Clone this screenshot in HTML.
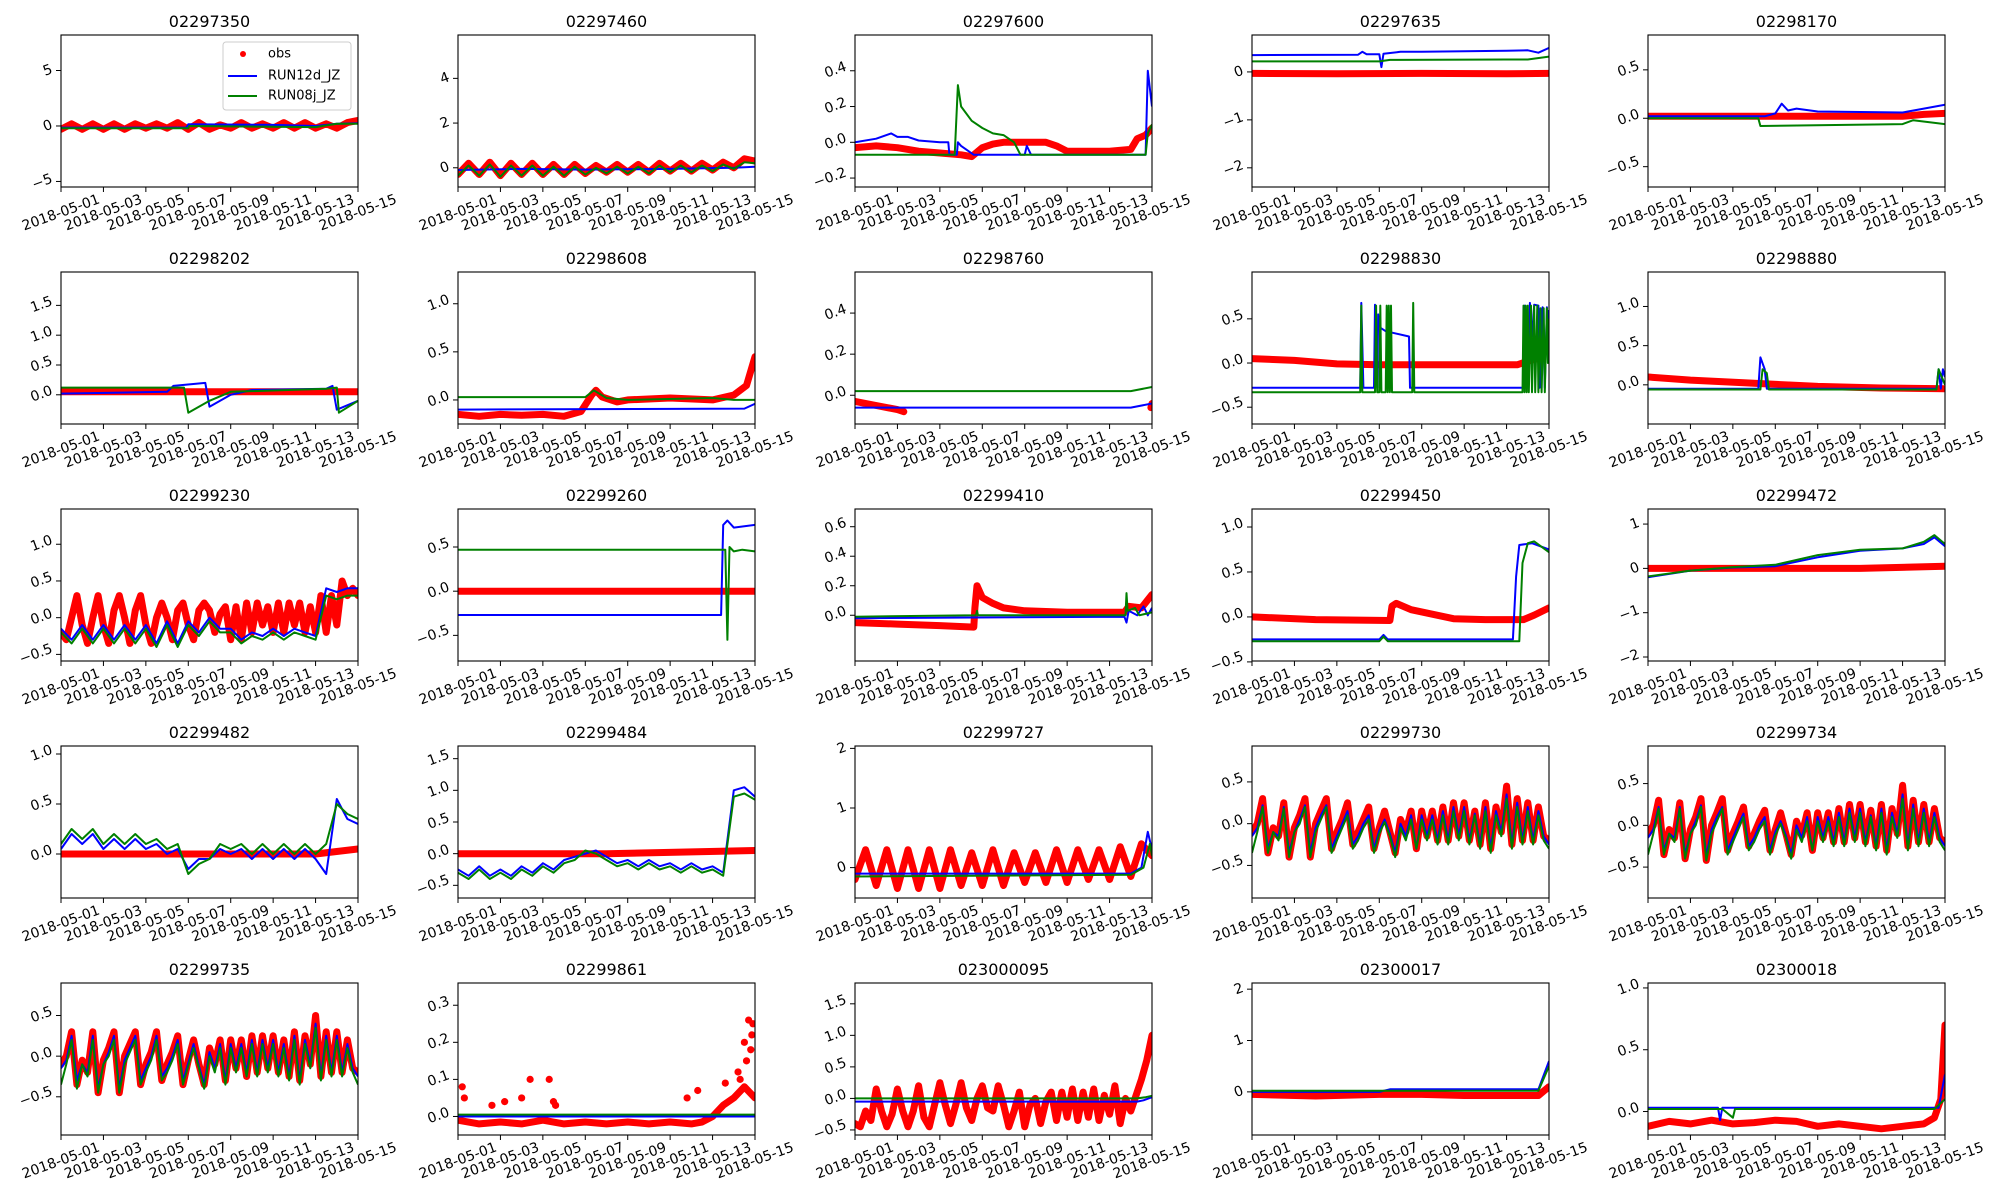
<!DOCTYPE html>
<html><head><meta charset="utf-8">
<style>
html,body{margin:0;padding:0;background:#fff;}
svg{display:block;font-family:"DejaVu Sans","Liberation Sans",sans-serif;}
</style></head>
<body>
<svg id="fig" width="2000" height="1200" viewBox="0 0 2000 1200" xmlns="http://www.w3.org/2000/svg"></svg>
<script>
const stations=["02297350","02297460","02297600","02297635","02298170","02298202","02298608","02298760","02298830","02298880","02299230","02299260","02299410","02299450","02299472","02299482","02299484","02299727","02299730","02299734","02299735","02299861","023000095","02300017","02300018"];
const yMin=[-5.5,-0.86,-0.25,-2.4,-0.71,-0.49,-0.25,-0.14,-0.69,-0.5,-0.59,-0.79,-0.31,-0.49,-2.09,-0.44,-0.7,-0.51,-0.89,-0.87,-0.97,-0.05,-0.58,-0.84,-0.19];
const yMax=[8.2,5.94,0.6,0.77,0.86,2.06,1.33,0.6,1.03,1.44,1.48,0.93,0.72,1.2,1.34,1.08,1.7,2.04,0.93,0.95,0.9,0.36,1.83,2.12,1.04];
const yTicks=[[-5,0,5],[0,2,4],[-0.2,0,0.2,0.4],[-2,-1,0],[-0.5,0,0.5],[0,0.5,1,1.5],[0,0.5,1],[0,0.2,0.4],[-0.5,0,0.5],[0,0.5,1],[-0.5,0,0.5,1],[-0.5,0,0.5],[0,0.2,0.4,0.6],[-0.5,0,0.5,1],[-2,-1,0,1],[0,0.5,1],[-0.5,0,0.5,1,1.5],[0,1,2],[-0.5,0,0.5],[-0.5,0,0.5],[-0.5,0,0.5],[0,0.1,0.2,0.3],[-0.5,0,0.5,1,1.5],[0,1,2],[0,0.5,1]];
const xTickDays=[0,2,4,6,8,10,12,14];
const xTickLabels=["2018-05-01","2018-05-03","2018-05-05","2018-05-07","2018-05-09","2018-05-11","2018-05-13","2018-05-15"];

const obsData=[
[-0.3,0.2,-0.3,0.2,-0.3,0.2,-0.3,0.2,-0.2,0.2,-0.2,0.3,-0.3,0.3,-0.3,0.1,-0.2,0.3,-0.2,0.2,-0.2,0.3,-0.2,0.3,-0.2,0.2,-0.2,0.3,0.5],
[-0.3,0.2,-0.3,0.25,-0.35,0.2,-0.3,0.2,-0.3,0.15,-0.3,0.15,-0.25,0.1,-0.2,0.15,-0.2,0.15,-0.2,0.2,-0.15,0.2,-0.15,0.2,-0.1,0.25,0.0,0.4,0.3],
[[0,-0.03],[1,-0.02],[2,-0.03],[3,-0.05],[4,-0.06],[5,-0.07],[5.5,-0.08],[6,-0.03],[6.5,-0.01],[7,0.0],[8,0.0],[9,0.0],[9.5,-0.02],[10,-0.05],[11,-0.05],[12,-0.05],[13,-0.04],[13.3,0.02],[13.7,0.04],[14,0.08]],
[[0,-0.03],[4,-0.04],[8,-0.03],[12,-0.04],[14,-0.03]],
[[0,0.02],[6,0.02],[12,0.02],[13,0.04],[14,0.05]],
[[0,0.05],[7,0.05],[14,0.05]],
[[0,-0.15],[1,-0.17],[2,-0.15],[3,-0.16],[4,-0.15],[5,-0.17],[5.8,-0.12],[6.3,0.05],[6.5,0.1],[6.8,0.03],[7.5,-0.02],[8,0.0],[10,0.02],[12,0.0],[13,0.05],[13.6,0.15],[14,0.45]],
[[0,-0.03],[1,-0.05],[2,-0.07],[2.3,-0.08],null,[13.95,-0.06],[14,-0.04]],
[[0,0.05],[2,0.03],[4,-0.01],[6,-0.02],[9,-0.02],[12.5,-0.02],[13,0.02],[13.6,0.06]],
[[0,0.1],[2,0.06],[5,0.02],[8,-0.02],[11,-0.04],[14,-0.05]],
[-0.2,-0.3,0.0,0.3,-0.1,-0.35,0.0,0.3,-0.1,-0.35,0.1,0.3,0.0,-0.35,0.1,0.3,-0.1,-0.35,0.0,0.2,0.0,-0.3,0.1,0.2,-0.1,-0.3,0.1,0.2,0.1,-0.2,0.05,0.15,-0.3,0.15,-0.3,0.2,-0.2,0.2,-0.1,0.15,-0.2,0.2,-0.2,0.2,-0.1,0.2,-0.2,0.15,-0.2,0.3,-0.2,0.3,-0.1,0.5,0.3,0.4,0.3],
[[0,0.0],[14,0.0]],
[[0,-0.05],[2,-0.06],[4,-0.07],[5.6,-0.08],[5.65,0.05],[5.75,0.2],[6,0.12],[6.5,0.08],[7,0.05],[8,0.03],[10,0.02],[12.7,0.02],[12.9,0.06],[13.5,0.05],[14,0.14]],
[[0,0.0],[3,-0.03],[6.5,-0.04],[6.6,0.12],[6.8,0.15],[7.5,0.08],[8.5,0.03],[9.5,-0.02],[11,-0.03],[12.8,-0.03],[13.3,0.02],[14,0.1]],
[[0,0.0],[10,0.0],[14,0.05]],
[[0,0.0],[12,0.0],[14,0.05]],
[[0,0.0],[7,0.0],[14,0.05]],
[-0.2,0.3,-0.3,0.3,-0.35,0.3,-0.35,0.3,-0.35,0.3,-0.3,0.25,-0.3,0.3,-0.3,0.25,-0.25,0.25,-0.25,0.3,-0.25,0.3,-0.2,0.3,-0.2,0.35,-0.15,0.4,0.2],
[-0.1,0.0,0.3,-0.35,-0.05,-0.15,0.25,-0.4,-0.05,0.1,0.3,-0.4,0.0,0.15,0.3,-0.3,-0.1,0.05,0.25,-0.25,-0.1,0.05,0.2,-0.3,-0.05,0.15,-0.1,-0.35,0.05,-0.1,0.15,-0.3,0.15,-0.15,0.15,-0.2,0.2,-0.2,0.25,-0.15,0.25,-0.2,0.15,-0.25,0.25,-0.3,0.2,-0.1,0.45,-0.25,0.3,-0.2,0.25,-0.2,0.2,-0.15,-0.2],
[-0.1,0.0,0.3,-0.35,-0.05,-0.15,0.27,-0.4,-0.05,0.1,0.32,-0.42,0.0,0.15,0.32,-0.3,-0.1,0.05,0.22,-0.25,-0.1,0.05,0.18,-0.3,-0.05,0.15,-0.1,-0.35,0.05,-0.12,0.15,-0.3,0.15,-0.15,0.15,-0.2,0.2,-0.2,0.25,-0.15,0.25,-0.2,0.18,-0.25,0.25,-0.3,0.2,-0.1,0.48,-0.25,0.3,-0.2,0.25,-0.2,0.2,-0.15,-0.2],
[-0.1,0.0,0.3,-0.35,-0.05,-0.2,0.3,-0.45,-0.05,0.1,0.3,-0.45,0.0,0.15,0.3,-0.35,-0.1,0.05,0.3,-0.3,-0.1,0.05,0.25,-0.35,-0.05,0.2,-0.1,-0.35,0.1,-0.1,0.2,-0.3,0.2,-0.15,0.2,-0.25,0.25,-0.2,0.25,-0.15,0.25,-0.2,0.2,-0.25,0.3,-0.3,0.25,-0.1,0.5,-0.25,0.3,-0.2,0.3,-0.2,0.2,-0.15,-0.2],
[[0,-0.01],[1,-0.02],[2,-0.015],[3,-0.02],[4,-0.01],[5,-0.02],[6,-0.015],[7,-0.02],[8,-0.015],[9,-0.02],[10,-0.015],[11,-0.02],[11.5,-0.015],[12,0.0],[12.5,0.03],[13,0.05],[13.5,0.08],[14,0.05],null,[0.2,0.08],null,[0.3,0.05],null,[1.6,0.03],null,[2.2,0.04],null,[3.0,0.05],null,[3.4,0.1],null,[4.3,0.1],null,[4.5,0.04],null,[4.6,0.03],null,[10.8,0.05],null,[11.3,0.07],null,[12.6,0.09],null,[13.2,0.12],null,[13.5,0.2],null,[13.7,0.26],null,[13.8,0.18],null,[13.9,0.25],null,[13.6,0.15],null,[13.3,0.1],null,[13.85,0.22]],
[-0.4,-0.45,-0.2,-0.35,0.15,-0.2,-0.45,-0.25,0.15,-0.2,-0.45,-0.2,0.2,-0.3,-0.45,-0.1,0.25,-0.1,-0.4,-0.1,0.25,-0.15,-0.35,0.0,0.2,-0.15,-0.2,0.2,-0.1,-0.45,-0.2,0.1,-0.45,-0.1,0.0,-0.4,-0.05,0.1,-0.35,0.1,-0.3,0.15,-0.35,0.1,-0.3,0.15,-0.35,0.05,-0.25,0.2,-0.4,0.0,-0.2,0.05,0.3,0.6,1.0],
[[0,-0.05],[3,-0.08],[6,-0.05],[8,-0.05],[10,-0.07],[13.5,-0.07],[14,0.1]],
[[0,-0.12],[1,-0.08],[2,-0.1],[3,-0.07],[4,-0.1],[5,-0.09],[6,-0.07],[7,-0.08],[8,-0.12],[9,-0.1],[10,-0.12],[11,-0.14],[12,-0.12],[13,-0.1],[13.5,-0.05],[13.8,0.1],[14,0.7]]
];

const run12Data=[
[[0,-0.15],[5.9,-0.15],[6,0.15],[10,0.1],[12,0.0],[13,0.2],[14,0.25]],
[[0,-0.1],[3,-0.05],[6,-0.08],[10,-0.05],[13,0.0],[14,0.05]],
[[0,0.0],[1,0.02],[1.7,0.05],[2,0.03],[2.5,0.03],[3,0.01],[4,0.0],[4.4,0.0],[4.45,-0.07],[4.8,-0.07],[4.85,0.0],[5,-0.02],[5.6,-0.07],[8,-0.07],[8.1,-0.02],[8.3,-0.07],[13.7,-0.07],[13.8,0.4],[14,0.2]],
[[0,0.35],[5,0.36],[5.2,0.42],[5.4,0.37],[6,0.37],[6.1,0.1],[6.2,0.38],[7,0.42],[8,0.42],[12,0.44],[13,0.45],[13.5,0.4],[14,0.5]],
[[0,0.02],[5.5,0.02],[6,0.05],[6.3,0.15],[6.6,0.08],[7,0.1],[8,0.07],[12,0.06],[13,0.1],[14,0.14]],
[[0,0.02],[5,0.05],[5.3,0.15],[6.8,0.2],[7,-0.2],[7.5,-0.1],[8,0.0],[9,0.08],[12.5,0.1],[12.8,0.15],[13,-0.25],[14,-0.1]],
[[0,-0.1],[13.5,-0.09],[14,-0.04]],
[[0,-0.06],[13,-0.06],[14,-0.04]],
[[0,-0.28],[5.1,-0.28],[5.15,0.68],[5.25,-0.28],[5.75,-0.28],[5.8,0.66],[5.9,-0.28],[5.95,0.55],[6.05,0.4],[6.3,0.36],[7.4,0.3],[7.45,-0.28],[12.8,-0.28],[12.85,0.65],[13.0,-0.28],[13.1,0.68],[13.2,0.3],[13.3,0.66],[13.5,0.65],[13.55,-0.28],[13.7,0.63],[13.8,-0.28],[13.9,0.63],[13.95,0.4],[14,0.6]],
[[0,-0.05],[5.2,-0.05],[5.3,0.35],[5.5,0.2],[5.6,-0.05],[13.6,-0.05],[13.7,0.2],[13.8,-0.05],[13.9,0.2],[14,0.1]],
[-0.15,-0.3,-0.1,-0.3,-0.1,-0.3,-0.1,-0.3,-0.1,-0.35,-0.05,-0.35,-0.05,-0.2,0.0,-0.15,-0.15,-0.3,-0.2,-0.25,-0.15,-0.25,-0.15,-0.2,-0.25,0.4,0.35,0.4,0.4],
[[0,-0.27],[12.4,-0.27],[12.5,0.75],[12.7,0.8],[13,0.72],[14,0.75]],
[[0,-0.02],[12.7,-0.01],[12.8,-0.05],[12.9,0.03],[13.3,0.0],[13.6,0.06],[13.8,0.0],[14,0.05]],
[[0,-0.25],[6.0,-0.25],[6.2,-0.2],[6.4,-0.25],[12.3,-0.25],[12.45,0.45],[12.6,0.8],[13.2,0.82],[14,0.75]],
[[0,-0.2],[2,-0.05],[4,0.02],[6,0.05],[8,0.25],[10,0.4],[12,0.45],[13,0.55],[13.5,0.7],[14,0.5]],
[0.05,0.2,0.1,0.2,0.05,0.15,0.05,0.15,0.05,0.1,0.0,0.05,-0.15,-0.05,-0.05,0.05,0.0,0.05,-0.05,0.05,-0.05,0.05,-0.05,0.05,-0.05,-0.2,0.55,0.35,0.3],
[-0.25,-0.35,-0.2,-0.35,-0.25,-0.35,-0.2,-0.3,-0.15,-0.25,-0.1,-0.05,0.0,0.05,-0.05,-0.15,-0.1,-0.2,-0.1,-0.2,-0.15,-0.25,-0.15,-0.25,-0.2,-0.3,1.0,1.05,0.9],
[[0,-0.1],[13,-0.1],[13.5,0.0],[13.8,0.6],[14,0.3]],
[-0.15,-0.05,0.22,-0.3,-0.1,-0.15,0.2,-0.35,-0.1,0.05,0.22,-0.35,-0.05,0.1,0.22,-0.3,-0.15,0.0,0.15,-0.25,-0.15,0.0,0.1,-0.3,-0.08,0.05,-0.12,-0.35,0.0,-0.15,0.1,-0.3,0.1,-0.15,0.1,-0.2,0.15,-0.2,0.2,-0.15,0.2,-0.2,0.12,-0.25,0.2,-0.3,0.15,-0.1,0.35,-0.25,0.25,-0.2,0.2,-0.2,0.15,-0.15,-0.25],
[-0.15,-0.05,0.22,-0.3,-0.1,-0.15,0.22,-0.35,-0.1,0.05,0.24,-0.37,-0.05,0.1,0.22,-0.3,-0.15,0.0,0.14,-0.25,-0.15,0.0,0.1,-0.3,-0.08,0.05,-0.12,-0.35,0.0,-0.15,0.1,-0.3,0.1,-0.15,0.1,-0.2,0.15,-0.2,0.2,-0.15,0.2,-0.2,0.12,-0.25,0.2,-0.3,0.15,-0.1,0.37,-0.25,0.25,-0.2,0.2,-0.2,0.15,-0.15,-0.25],
[-0.15,-0.05,0.25,-0.3,-0.1,-0.2,0.25,-0.4,-0.1,0.05,0.25,-0.4,-0.05,0.1,0.25,-0.3,-0.15,0.0,0.25,-0.25,-0.15,0.0,0.2,-0.3,-0.08,0.15,-0.12,-0.35,0.05,-0.15,0.15,-0.3,0.15,-0.15,0.15,-0.2,0.2,-0.2,0.2,-0.15,0.2,-0.2,0.15,-0.25,0.25,-0.3,0.2,-0.1,0.4,-0.25,0.25,-0.2,0.25,-0.2,0.15,-0.15,-0.25],
[[0,0.0],[14,0.0]],
[[0,-0.05],[13.3,-0.05],[13.6,-0.03],[14,0.02]],
[[0,0.0],[6,0.0],[6.5,0.05],[13.5,0.05],[14,0.6]],
[[0,0.03],[3.3,0.03],[3.4,-0.07],[3.5,0.03],[13.7,0.03],[14,0.3]]
];

const run08Data=[
[[0,-0.2],[6,-0.2],[6.05,0.0],[12,-0.1],[13,0.2],[14,0.2]],
[-0.35,0.1,-0.35,0.15,-0.4,0.1,-0.35,0.1,-0.35,0.05,-0.35,0.05,-0.3,0.0,-0.25,0.05,-0.25,0.05,-0.25,0.1,-0.2,0.1,-0.2,0.1,-0.15,0.15,-0.05,0.25,0.2],
[[0,-0.07],[4.7,-0.07],[4.85,0.32],[5,0.2],[5.5,0.12],[6,0.08],[6.5,0.05],[7,0.04],[7.5,0.0],[7.8,-0.07],[13.7,-0.07],[13.8,0.05],[14,0.1]],
[[0,0.22],[6,0.22],[6.5,0.25],[12,0.26],[13,0.26],[14,0.32]],
[[0,0.0],[5.2,0.0],[5.3,-0.08],[12,-0.06],[12.5,-0.02],[14,-0.06]],
[[0,0.12],[5.8,0.12],[6,-0.3],[7,-0.1],[8,0.05],[12.5,0.1],[13,0.12],[13.1,-0.3],[14,-0.1]],
[[0,0.03],[6,0.03],[6.4,0.1],[7,0.02],[8,0.0],[12,0.02],[13,0.0],[14,0.0]],
[[0,0.02],[13,0.02],[14,0.04]],
[[0,-0.33],[5.1,-0.33],[5.15,0.65],[5.2,-0.33],[5.8,-0.33],[5.85,0.65],[5.9,-0.33],[6.0,-0.33],[6.05,0.65],[6.1,-0.33],[6.3,-0.33],[6.35,0.65],[6.4,-0.33],[6.45,0.65],[6.5,-0.33],[6.55,0.65],[6.6,-0.33],[7.55,-0.33],[7.6,0.68],[7.65,-0.33],[12.75,-0.33],[12.8,0.65],[12.85,-0.33],[12.9,0.65],[12.95,-0.33],[13.0,0.65],[13.05,-0.33],[13.15,0.65],[13.2,-0.33],[13.3,0.65],[13.35,-0.33],[13.45,0.65],[13.5,-0.33],[13.6,0.62],[13.65,-0.33],[13.75,0.62],[13.8,-0.33],[13.9,0.62],[13.95,0.0],[14,0.5]],
[[0,-0.06],[5.3,-0.06],[5.4,0.2],[5.6,0.15],[5.7,-0.06],[13.6,-0.06],[13.7,0.2],[14,0.0]],
[-0.2,-0.35,-0.15,-0.35,-0.15,-0.35,-0.15,-0.35,-0.15,-0.4,-0.1,-0.4,-0.1,-0.25,-0.05,-0.2,-0.2,-0.35,-0.25,-0.3,-0.2,-0.3,-0.2,-0.25,-0.3,0.3,0.25,0.3,0.3],
[[0,0.47],[12.6,0.47],[12.7,-0.55],[12.8,0.5],[13,0.45],[13.4,0.47],[14,0.45]],
[[0,-0.01],[5.7,0.0],[5.75,0.03],[5.8,0.0],[12.75,0.0],[12.8,0.15],[12.85,0.03],[13.2,0.05],[13.4,0.0],[14,0.02]],
[[0,-0.27],[6.0,-0.27],[6.2,-0.22],[6.4,-0.27],[12.6,-0.27],[12.75,0.6],[13.0,0.82],[13.3,0.84],[14,0.72]],
[[0,-0.18],[2,-0.05],[4,0.03],[6,0.08],[8,0.3],[10,0.42],[12,0.45],[13,0.6],[13.5,0.75],[14,0.55]],
[0.1,0.25,0.15,0.25,0.1,0.2,0.1,0.2,0.1,0.15,0.05,0.1,-0.2,-0.1,-0.05,0.1,0.05,0.1,0.0,0.1,0.0,0.1,0.0,0.1,0.0,0.1,0.5,0.4,0.35],
[-0.3,-0.4,-0.25,-0.4,-0.3,-0.4,-0.25,-0.35,-0.2,-0.3,-0.15,-0.1,0.05,0.0,-0.1,-0.2,-0.15,-0.25,-0.15,-0.25,-0.2,-0.3,-0.2,-0.3,-0.25,-0.35,0.9,0.95,0.85],
[[0,-0.15],[13,-0.12],[13.6,0.0],[13.9,0.4],[14,0.2]],
[-0.35,-0.1,0.2,-0.35,-0.1,-0.2,0.18,-0.4,-0.1,0.0,0.2,-0.4,-0.1,0.05,0.2,-0.35,-0.2,-0.05,0.1,-0.3,-0.2,-0.05,0.05,-0.35,-0.12,0.02,-0.15,-0.4,-0.05,-0.2,0.05,-0.3,0.05,-0.2,0.05,-0.25,0.1,-0.25,0.15,-0.2,0.15,-0.25,0.1,-0.3,0.15,-0.35,0.1,-0.15,0.3,-0.3,0.2,-0.25,0.15,-0.25,0.1,-0.2,-0.3],
[-0.35,-0.1,0.2,-0.35,-0.1,-0.2,0.2,-0.4,-0.1,0.0,0.22,-0.42,-0.1,0.05,0.2,-0.35,-0.2,-0.05,0.1,-0.3,-0.2,-0.05,0.05,-0.35,-0.12,0.02,-0.15,-0.4,-0.05,-0.2,0.05,-0.3,0.05,-0.2,0.05,-0.25,0.1,-0.25,0.15,-0.2,0.15,-0.25,0.1,-0.3,0.15,-0.35,0.1,-0.15,0.32,-0.3,0.2,-0.25,0.15,-0.25,0.1,-0.2,-0.3],
[-0.35,-0.1,0.2,-0.4,-0.1,-0.25,0.2,-0.45,-0.1,0.0,0.2,-0.45,-0.1,0.05,0.2,-0.35,-0.2,-0.05,0.2,-0.3,-0.2,-0.05,0.15,-0.35,-0.12,0.1,-0.15,-0.4,0.0,-0.2,0.1,-0.35,0.1,-0.2,0.1,-0.25,0.15,-0.25,0.15,-0.2,0.15,-0.25,0.1,-0.3,0.2,-0.35,0.15,-0.15,0.35,-0.3,0.2,-0.25,0.2,-0.25,0.1,-0.2,-0.35],
[[0,0.005],[14,0.005]],
[[0,0.0],[13.3,0.0],[13.7,0.02],[14,0.04]],
[[0,0.02],[13.5,0.02],[14,0.5]],
[[0,0.02],[3.5,0.02],[4,-0.05],[4.1,0.02],[13.5,0.02],[14,0.1]]
];

const NS="http://www.w3.org/2000/svg";
const svg=document.getElementById("fig");
const colLeft=[61,458,855,1252,1648];
const rowTop=[35,272,509,746,983];
const W=297,H=152;
function mk(tag,attrs,parent){const e=document.createElementNS(NS,tag);for(const k in attrs)e.setAttribute(k,attrs[k]);(parent||svg).appendChild(e);return e;}
function fmt(v,ticks){const allInt=ticks.every(t=>Math.abs(t-Math.round(t))<1e-9);let s=allInt?String(Math.round(v)):v.toFixed(1);if(v<0)s="\u2212"+s.replace("-","");return s;}
function toPts(series){const out=[];const n=series.length;let numeric=typeof series[0]==="number";series.forEach((p,i)=>{if(p===null)out.push(null);else if(numeric)out.push([i*14/(n-1),p]);else out.push(p);});return out;}

stations.forEach((name,i)=>{
  const L=colLeft[i%5],T=rowTop[Math.floor(i/5)];
  const g=mk("g",{});
  
  
  const xs=d=>L+d/14*W;
  const ys=v=>T+H-(v-yMin[i])/(yMax[i]-yMin[i])*H;
  const cp=mk("clipPath",{id:"c"+i},g);mk("rect",{x:L,y:T,width:W,height:H},cp);
  const plot=mk("g",{"clip-path":"url(#c"+i+")"},g);
  // obs
  const obs=toPts(obsData[i]);
  const og=mk("g",{},plot);
  
  
  let seg=[];
  const flush=()=>{if(seg.length>1){mk("polyline",{points:seg.map(p=>xs(p[0]).toFixed(1)+","+ys(p[1]).toFixed(1)).join(" "),fill:"none",stroke:"#ff0000","stroke-width":7,"stroke-linejoin":"round","stroke-linecap":"round"},og);}else if(seg.length===1){mk("circle",{cx:xs(seg[0][0]),cy:ys(seg[0][1]),r:3.6,fill:"#ff0000"},og);}seg=[];};
  obs.forEach(p=>{if(p===null)flush();else seg.push(p);});flush();
  [[run12Data[i],"#0000ff","run12d-line"],[run08Data[i],"#008000","run08j-line"]].forEach(([s,c,nm])=>{
    const pts=toPts(s);
    const pl=mk("polyline",{points:pts.filter(p=>p).map(p=>xs(p[0]).toFixed(1)+","+ys(p[1]).toFixed(1)).join(" "),fill:"none",stroke:c,"stroke-width":2,"stroke-linejoin":"round"},plot);
    
    
  });
  const fr=mk("rect",{x:L,y:T,width:W,height:H,fill:"none",stroke:"#000","stroke-width":1.1},g);
  
  
  const tt=mk("text",{x:L+W/2,y:T-8,"text-anchor":"middle","font-size":16,fill:"#000"},g);
  tt.textContent=name;
  
  
  xTickDays.forEach((d,k)=>{
    const x=xs(d);
    mk("line",{x1:x,y1:T+H,x2:x,y2:T+H+5,stroke:"#000","stroke-width":1},g);
    const t=mk("text",{x:x,y:T+H+26,"text-anchor":"middle","dominant-baseline":"central","font-size":14,fill:"#000",transform:"rotate(-20 "+x+" "+(T+H+26)+")"},g);
    t.textContent=xTickLabels[k];
    
    
  });
  yTicks[i].forEach(v=>{
    const y=ys(v);
    mk("line",{x1:L-5,y1:y,x2:L,y2:y,stroke:"#000","stroke-width":1},g);
    const s=fmt(v,yTicks[i]);
    const w=s.length*8.6;
    const ay=y-w/2*Math.sin(20*Math.PI/180);
    const t=mk("text",{x:L-9,y:ay,"text-anchor":"end","dominant-baseline":"central","font-size":14,fill:"#000",transform:"rotate(-20 "+(L-9)+" "+ay+")"},g);
    t.textContent=s;
    
    
  });
});

// legend in first subplot
const lg=mk("g",{});


mk("rect",{x:223,y:42,width:128,height:68,rx:3,fill:"#fff","fill-opacity":0.8,stroke:"#ccc","stroke-width":1},lg);
mk("circle",{cx:243,cy:54,r:3,fill:"#ff0000"},lg);
mk("line",{x1:228,y1:76,x2:257,y2:76,stroke:"#0000ff","stroke-width":2},lg);
mk("line",{x1:228,y1:96,x2:257,y2:96,stroke:"#008000","stroke-width":2},lg);
[["obs",54],["RUN12d_JZ",76],["RUN08j_JZ",96]].forEach(([s,y])=>{
  const t=mk("text",{x:268,y:y,"dominant-baseline":"central","font-size":13,fill:"#000"},lg);
  t.textContent=s;
  
  
});
</script>
</body></html>
